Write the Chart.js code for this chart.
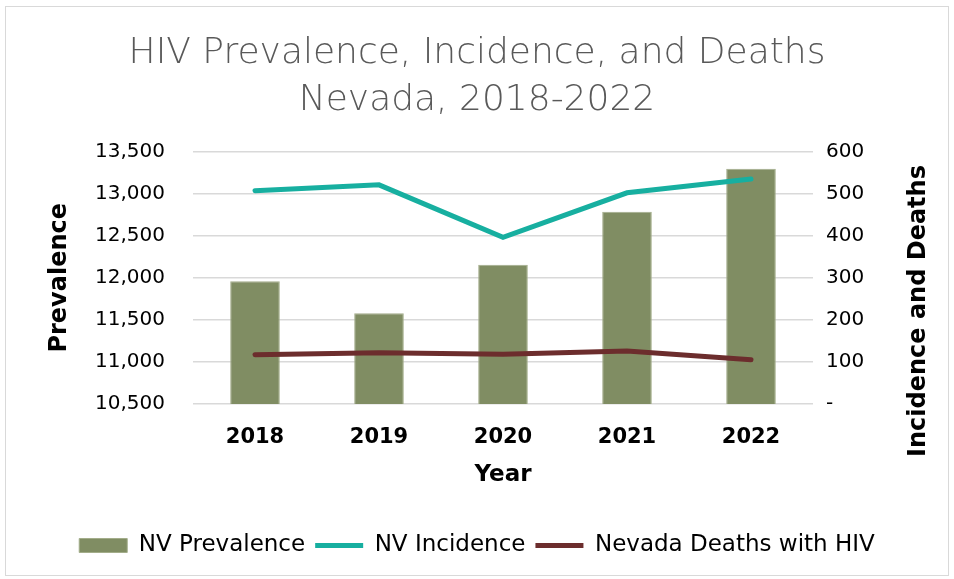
<!DOCTYPE html>
<html>
<head>
<meta charset="utf-8">
<script src="https://cdn.jsdelivr.net/npm/chart.js@4.4.1/dist/chart.umd.min.js"></script>
<style>
    body { margin: 0; background: #fff; }
    #wrap {
        position: absolute; left: 5px; top: 6px;
        width: 944px; height: 570px;
        border: 1px solid #d9d9d9; box-sizing: border-box;
    }
</style>
</head>
<body>
<div id="wrap"><canvas id="hivChart"></canvas></div>
<script>
// 資料
const years = ['2018', '2019', '2020', '2021', '2022'];
const prevalence = [11960, 11580, 12155, 12785, 13295];
const incidence = [507, 521, 396, 502, 535];
const deaths = [117, 122, 118, 126, 105];

const FONT = '"DejaVu Sans", sans-serif';

// 右側軸標題（由下往上）
const rightTitle = {
    id: 'rightTitle',
    afterDraw(chart) {
        const ctx = chart.ctx;
        ctx.save();
        ctx.translate(913, 304);
        ctx.rotate(-Math.PI / 2);
        ctx.font = 'bold 24px ' + FONT;
        ctx.fillStyle = '#000';
        ctx.textAlign = 'center';
        ctx.textBaseline = 'middle';
        ctx.fillText('Incidence and Deaths', 0, 0);
        ctx.restore();
    }
};

function initChart() {
    const ctx = document.getElementById('hivChart').getContext('2d');

    new Chart(ctx, {
        type: 'bar',
        data: {
            labels: years,
            datasets: [
                {
                    label: 'NV Prevalence',
                    data: prevalence,
                    backgroundColor: '#808d63',
                    borderColor: '#a3ad8a',
                    borderWidth: 1,
                    barPercentage: 0.8,
                    categoryPercentage: 0.5,
                    yAxisID: 'y',
                    order: 2,
                    pointStyle: 'rect'
                },
                {
                    label: 'NV Incidence',
                    data: incidence,
                    type: 'line',
                    borderColor: '#17afa0',
                    backgroundColor: '#17afa0',
                    borderWidth: 5,
                    borderCapStyle: 'round',
                    pointRadius: 0,
                    tension: 0,
                    yAxisID: 'y1',
                    order: 1,
                    pointStyle: 'line'
                },
                {
                    label: 'Nevada Deaths with HIV',
                    data: deaths,
                    type: 'line',
                    borderColor: '#6c2d2d',
                    backgroundColor: '#6c2d2d',
                    borderWidth: 5,
                    borderCapStyle: 'round',
                    pointRadius: 0,
                    tension: 0,
                    yAxisID: 'y1',
                    order: 0,
                    pointStyle: 'line'
                }
            ]
        },
        options: {
            responsive: true,
            maintainAspectRatio: false,
            animation: false,
            layout: { padding: { left: 0, right: 0, top: 0, bottom: 8 } },
            scales: {
                x: {
                    grid: { display: false },
                    border: { display: false },
                    afterFit: s => { s.height = 120; },
                    ticks: { color: '#000', font: { family: FONT, size: 21, weight: 'bold' }, padding: 13 },
                    title: { display: true, text: 'Year', color: '#000', font: { family: FONT, size: 23, weight: 'bold' }, padding: { top: 0, bottom: 35 } }
                },
                y: {
                    position: 'left',
                    min: 10500,
                    max: 13500,
                    afterFit: s => { s.width = 187; },
                    ticks: {
                        stepSize: 500,
                        color: '#000',
                        padding: 28,
                        font: { family: FONT, size: 20 },
                        callback: v => v.toLocaleString('en-US')
                    },
                    grid: { color: '#d9d9d9', lineWidth: 1.5, drawTicks: false },
                    border: { display: false },
                    title: { display: true, text: 'Prevalence', color: '#000', font: { family: FONT, size: 24, weight: 'bold' }, padding: { top: 39, bottom: 0 } }
                },
                y1: {
                    position: 'right',
                    min: 0,
                    max: 600,
                    afterFit: s => { s.width = 135; },
                    ticks: {
                        stepSize: 100,
                        color: '#000',
                        padding: 13,
                        font: { family: FONT, size: 20 },
                        callback: v => v === 0 ? '-' : v
                    },
                    grid: { drawOnChartArea: false, drawTicks: false },
                    border: { display: false }
                }
            },
            plugins: {
                title: {
                    display: true,
                    text: ['HIV Prevalence, Incidence, and Deaths', 'Nevada, 2018-2022'],
                    color: '#595959',
                    font: { family: FONT, size: 36, weight: '200', lineHeight: 1.3 },
                    padding: { top: 23, bottom: 28 }
                },
                legend: {
                    position: 'bottom',
                    labels: {
                        usePointStyle: true,
                        pointStyleWidth: 48,
                        boxHeight: 14,
                        padding: 10,
                        color: '#000',
                        font: { family: FONT, size: 23 },
                        sort: (a, b) => a.datasetIndex - b.datasetIndex
                    }
                },
                tooltip: { enabled: false }
            }
        },
        plugins: [rightTitle]
    });
}

document.addEventListener('DOMContentLoaded', initChart);
</script>
</body>
</html>
